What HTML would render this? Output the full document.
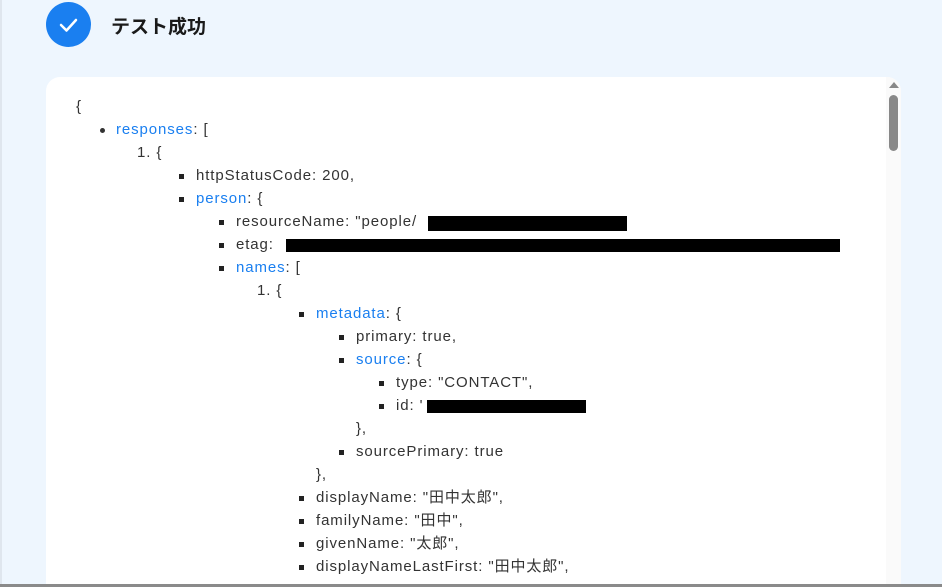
<!DOCTYPE html>
<html><head><meta charset="utf-8"><style>
html,body{margin:0;padding:0;width:942px;height:587px;overflow:hidden}
body{background:#eef6fe;position:relative;font-family:"Liberation Sans","Noto Sans CJK JP",sans-serif;}
.bl{position:absolute;left:0;top:0;width:2px;height:587px;background:#dfe6ee}
.bb{position:absolute;left:0;top:584px;width:942px;height:3px;background:#8a8a8a}
.circ{position:absolute;left:46px;top:2px;width:45px;height:45px;border-radius:50%;background:#1a7ff0}
.title{position:absolute;left:111px;top:12px;font-size:19px;font-weight:bold;color:#1a1a1a}
.card{position:absolute;left:46px;top:77px;width:855px;height:507px;background:#fff;border-radius:14px 14px 0 0}
.sb{position:absolute;left:886px;top:77px;width:15px;height:507px;background:#fafafa;border-top-right-radius:14px}
.thumb{position:absolute;left:889px;top:95px;width:9px;height:56px;border-radius:5px;background:#888}
.arr{position:absolute;left:889px;top:82px;width:0;height:0;border-left:5px solid transparent;border-right:5px solid transparent;border-bottom:6px solid #888}
.t{position:absolute;font-size:15px;color:#333;white-space:nowrap;line-height:18px;letter-spacing:0.9px;margin-top:2px}
.k{color:#1a7ff0}
.sq{position:absolute;width:5px;height:5px;background:#222}
.dot{position:absolute;width:5px;height:5px;border-radius:50%;background:#333}
.blk{position:absolute;background:#000}
</style></head><body>
<div class="bl"></div>
<div class="circ"><svg width="45" height="45"><path d="M15 23 L20.5 28.5 L30 18" stroke="#fff" stroke-width="2.5" fill="none" stroke-linecap="round" stroke-linejoin="round"/></svg></div>
<div class="title">テスト成功</div>
<div class="card"></div>
<div class="sb"></div><div class="arr"></div><div class="thumb"></div>

<div class="t" style="left:76px;top:96px">{</div>
<div class="dot" style="left:100px;top:128px"></div><div class="t" style="left:116px;top:119px"><span class="k">responses</span>: [</div>
<div class="t" style="left:137px;top:142px">1. {</div>
<div class="sq" style="left:179px;top:174px"></div><div class="t" style="left:196px;top:165px">httpStatusCode: 200,</div>
<div class="sq" style="left:179px;top:197px"></div><div class="t" style="left:196px;top:188px"><span class="k">person</span>: {</div>
<div class="sq" style="left:219px;top:220px"></div><div class="t" style="left:236px;top:211px">resourceName: "people/</div>
<div class="blk" style="left:428px;top:216px;width:199px;height:15px"></div>
<div class="sq" style="left:219px;top:243px"></div><div class="t" style="left:236px;top:234px">etag:</div>
<div class="blk" style="left:286px;top:239px;width:554px;height:13px"></div>
<div class="sq" style="left:219px;top:266px"></div><div class="t" style="left:236px;top:257px"><span class="k">names</span>: [</div>
<div class="t" style="left:257px;top:280px">1. {</div>
<div class="sq" style="left:299px;top:312px"></div><div class="t" style="left:316px;top:303px"><span class="k">metadata</span>: {</div>
<div class="sq" style="left:339px;top:335px"></div><div class="t" style="left:356px;top:326px">primary: true,</div>
<div class="sq" style="left:339px;top:358px"></div><div class="t" style="left:356px;top:349px"><span class="k">source</span>: {</div>
<div class="sq" style="left:379px;top:381px"></div><div class="t" style="left:396px;top:372px">type: "CONTACT",</div>
<div class="sq" style="left:379px;top:404px"></div><div class="t" style="left:396px;top:395px">id: '</div>
<div class="blk" style="left:427px;top:400px;width:159px;height:13px"></div>
<div class="t" style="left:356px;top:418px">},</div>
<div class="sq" style="left:339px;top:450px"></div><div class="t" style="left:356px;top:441px">sourcePrimary: true</div>
<div class="t" style="left:316px;top:464px">},</div>
<div class="sq" style="left:299px;top:496px"></div><div class="t" style="left:316px;top:487px">displayName: "田中太郎",</div>
<div class="sq" style="left:299px;top:519px"></div><div class="t" style="left:316px;top:510px">familyName: "田中",</div>
<div class="sq" style="left:299px;top:542px"></div><div class="t" style="left:316px;top:533px">givenName: "太郎",</div>
<div class="sq" style="left:299px;top:565px"></div><div class="t" style="left:316px;top:556px">displayNameLastFirst: "田中太郎",</div>
<div class="bb"></div>
</body></html>
